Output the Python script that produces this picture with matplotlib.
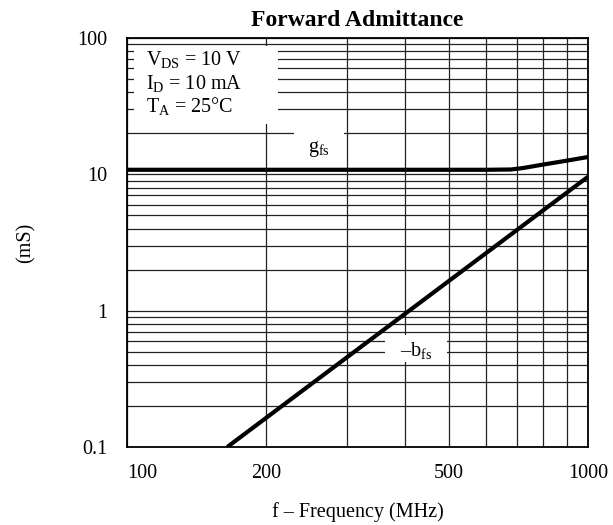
import matplotlib
matplotlib.use("Agg")
import matplotlib.pyplot as plt
from matplotlib.patches import Rectangle

plt.rcParams['font.family'] = ['Liberation Serif', 'DejaVu Serif']
plt.rcParams['mathtext.fontset'] = 'custom'
plt.rcParams['mathtext.rm'] = 'Liberation Serif'
plt.rcParams['mathtext.it'] = 'Liberation Serif:italic'

# values
gfs_freq = [100, 200, 400, 600, 680, 720, 800, 900, 1000]
gfs_ms = [10.8, 10.8, 10.8, 10.8, 10.85, 11.1, 11.8, 12.6, 13.4]
bfs_freq = [165, 1000]
bfs_ms = [0.1, 9.6]

x_ticks = [100, 200, 500, 1000]
x_labels = ['100', '200', '500', '1000']
y_ticks = [0.1, 1, 10, 100]
y_labels = ['0.1', '1', '10', '100']
conditions = [r'V$_{\mathrm{DS}}$ = 10 V', r'I$_{\mathrm{D}}$ = 10 mA', r'T$_{\mathrm{A}}$ = 25°C']

fig = plt.figure(figsize=(6.13, 5.25), dpi=100)
ax = fig.add_axes([0.2072, 0.1486, 0.752, 0.779])
ax.set_xscale('log')
ax.set_yscale('log')
ax.set_xlim(100, 1000)
ax.set_ylim(0.1, 100)

ax.set_xticks(x_ticks)
ax.set_xticklabels(x_labels)
ax.set_xticks([200, 300, 400, 500, 600, 700, 800, 900], minor=True)
ax.set_yticks(y_ticks)
ax.set_yticklabels(y_labels)
minor_y = [m * d for d in (0.1, 1, 10) for m in range(2, 10)]
ax.set_yticks(minor_y, minor=True)
ax.xaxis.set_minor_formatter(matplotlib.ticker.NullFormatter())
ax.yaxis.set_minor_formatter(matplotlib.ticker.NullFormatter())
ax.tick_params(which='both', length=0, labelsize=14.5)
ax.tick_params(axis='x', pad=12)
ax.tick_params(axis='y', pad=14)
ax.grid(True, which='both', color='#222222', lw=0.9)

for s in ax.spines.values():
    s.set_linewidth(1.3)

# first x label sits inside, left aligned
lab = ax.get_xticklabels()[0]
lab.set_horizontalalignment('left')

# white masks over the grid behind the text
ax.add_patch(Rectangle((103.6, 23.3), 212.6 - 103.6, 87 - 23.3, facecolor='white', edgecolor='none', zorder=2))
ax.add_patch(Rectangle((230, 12.5), 296 - 230, 25 - 12.5, facecolor='white', edgecolor='none', zorder=2))
ax.add_patch(Rectangle((362.8, 0.418), 494.6 - 362.8, 0.661 - 0.418, facecolor='white', edgecolor='none', zorder=2))

ax.plot(gfs_freq, gfs_ms, color='black', lw=3, solid_capstyle='butt', zorder=4)
ax.plot(bfs_freq, bfs_ms, color='black', lw=3, solid_capstyle='butt', zorder=4)

for txt, yv in zip(conditions, [63.4, 42.6, 28.6]):
    ax.text(110, yv, txt, fontsize=14.5, va='baseline', ha='left', zorder=5)

ax.text(261, 15.3, r'g$_{\mathrm{fs}}$', fontsize=14.5, ha='center', va='center', zorder=5)
ax.text(424, 0.513, r'–b$_{\mathrm{fs}}$', fontsize=14.5, ha='center', va='center', zorder=5)

ax.set_title('Forward Admittance', fontsize=17, fontweight='bold', pad=9)
ax.set_xlabel('f – Frequency (MHz)', fontsize=14.5, labelpad=14)
ax.set_ylabel('(mS)', fontsize=14.5, labelpad=30)

fig.savefig('out.png', dpi=100)
